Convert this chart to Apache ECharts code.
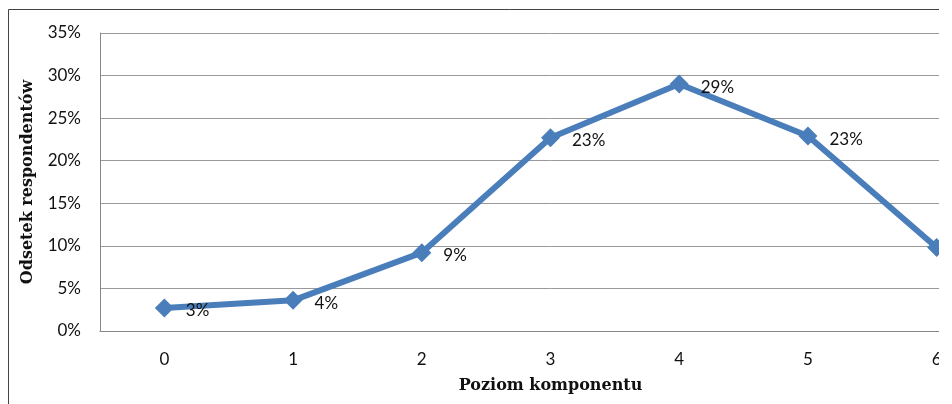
<!DOCTYPE html>
<html>
<head>
<meta charset="utf-8">
<script src="https://cdn.jsdelivr.net/npm/echarts@6/dist/echarts.min.js"></script>
<style>
  html, body { margin: 0; padding: 0; background: #fff; }
  #clip { width: 939px; height: 404px; overflow: hidden; }
  #chart { width: 1010px; height: 404px; }
</style>
</head>
<body>
<div id="clip"><div id="chart"></div></div>
<script>
const levels = ["0", "1", "2", "3", "4", "5", "6"];
const shares = [2.7, 3.6, 9.2, 22.7, 29.0, 22.9, 9.8];
const shareLabels = ["3%", "4%", "9%", "23%", "29%", "23%", "10%"];

const tickFont = "Lato, 'Open Sans', sans-serif";
const titleFont = "'DejaVu Serif', 'Liberation Serif', serif";

const chart = echarts.init(document.getElementById("chart"));

chart.setOption({
  animation: false,
  graphic: [{
    type: "rect",
    shape: { x: 8.5, y: 9.5, width: 1200, height: 600 },
    style: { fill: "none", stroke: "#444", lineWidth: 1 },
    silent: true,
  }],
  grid: {
    top: 33,
    left: 100,
    right: 9,
    bottom: 73,
  },
  xAxis: {
    type: "category",
    data: levels,
    boundaryGap: true,
    name: "Poziom komponentu",
    nameLocation: "middle",
    nameGap: 47,
    nameTextStyle: { fontFamily: titleFont, fontWeight: "bold", fontSize: 16, color: "#111" },
    axisLine: { lineStyle: { color: "#888", width: 1 } },
    axisTick: { show: false },
    axisLabel: { margin: 20, fontFamily: tickFont, fontSize: 17, color: "#111" },
  },
  yAxis: {
    type: "value",
    min: 0,
    max: 35,
    interval: 5,
    name: "Odsetek respondentów",
    nameLocation: "middle",
    nameGap: 64,
    nameTextStyle: { fontFamily: titleFont, fontWeight: "bold", fontSize: 16, color: "#111" },
    axisLine: { show: true, lineStyle: { color: "#888", width: 1 } },
    axisTick: { show: false },
    axisLabel: { margin: 19, fontFamily: tickFont, fontSize: 17, color: "#111", formatter: "{value}%" },
    splitLine: { lineStyle: { color: "#999", width: 1 } },
  },
  series: [{
    type: "line",
    data: shares,
    symbol: "diamond",
    symbolSize: 19,
    itemStyle: { color: "#4a7ebb" },
    lineStyle: { color: "#4a7ebb", width: 6 },
    label: {
      show: true,
      position: "right",
      distance: 12,
      offset: [0, 3],
      fontFamily: tickFont,
      fontSize: 17,
      color: "#111",
      formatter: (p) => shareLabels[p.dataIndex],
    },
  }],
});
</script>
</body>
</html>
